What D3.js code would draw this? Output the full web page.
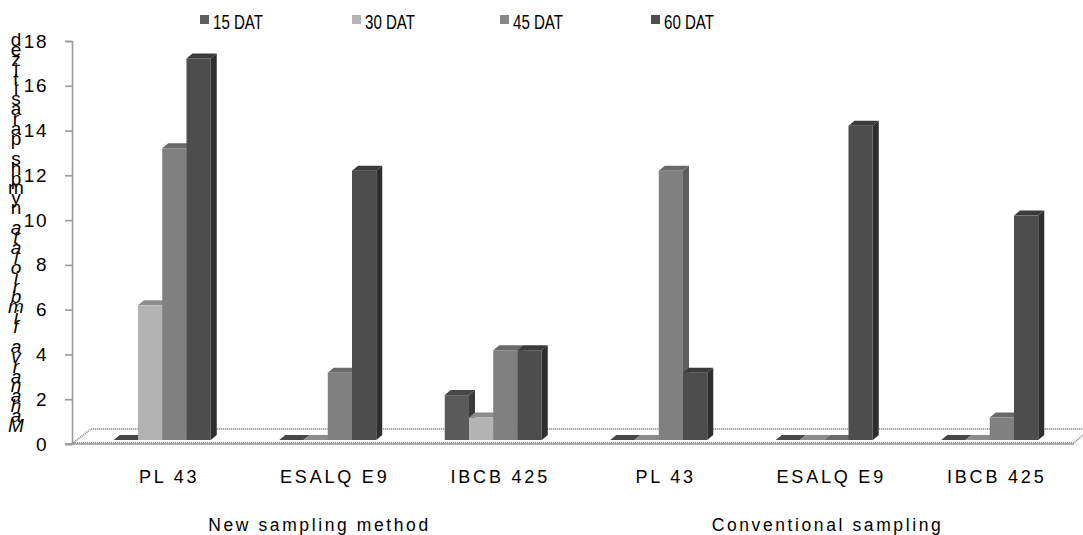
<!DOCTYPE html>
<html>
<head>
<meta charset="utf-8">
<script src="https://cdnjs.cloudflare.com/ajax/libs/d3/7.8.5/d3.min.js"></script>
<style>
  body { margin: 0; background: #fff; }
  svg text { font-family: "Liberation Sans", Arial, sans-serif; fill: #000; }
</style>
</head>
<body>
<script>
// values
var categories = ["PL 43", "ESALQ E9", "IBCB 425", "PL 43", "ESALQ E9", "IBCB 425"];
var groups = ["New sampling method", "Conventional sampling"];
var series = ["15 DAT", "30 DAT", "45 DAT", "60 DAT"];
var dat15 = [0, 0, 2, 0, 0, 0];
var dat30 = [6, 0, 1, 0, 0, 0];
var dat45 = [13, 3, 4, 12, 0, 1];
var dat60 = [17, 12, 4, 3, 14, 10];
var yTicks = [0, 2, 4, 6, 8, 10, 12, 14, 16, 18];
var yLabel = "Mahanarva fimbriolata nymphs parasitized";

var values = [dat15, dat30, dat45, dat60];
// front / top / side shades for each series
var shades = [
  ["#5a5a5a", "#474747", "#3a3a3a"],
  ["#b3b3b3", "#8c8c8c", "#949494"],
  ["#808080", "#6a6a6a", "#5e5e5e"],
  ["#4d4d4d", "#3b3b3b", "#2e2e2e"]
];
var legendColors = ["#5f5f5f", "#b4b4b4", "#878787", "#4d4d4d"];

var W = 1083, H = 535;
var svg = d3.select("body").append("svg")
    .attr("width", W)
    .attr("height", H);

// scales
var x = d3.scaleBand().domain(d3.range(categories.length)).range([85, 1078]);
var inner = d3.scaleBand().domain(series).range([-48.5, 48.5]);
var y = d3.scaleLinear().domain([0, 18]).range([444, 41]);
var yBar = y.copy().range([440, 36]);
var dx = 6, dy = 5;

// floor
var floorPts = [[73, 443], [1074, 443], [1090, 429], [91, 429]];
svg.append("polygon")
    .attr("points", floorPts.map(function(p) { return p.join(","); }).join(" "))
    .attr("fill", "#fff")
    .attr("stroke", "#909090")
    .attr("stroke-width", 2)
    .attr("stroke-dasharray", "1,1");

// y axis
var yAxisG = svg.append("g")
    .attr("transform", "translate(72,0)")
    .call(d3.axisLeft(y).tickValues(yTicks).tickSize(7).tickPadding(20));
yAxisG.select(".domain").attr("stroke", "#9a9a9a").attr("stroke-width", 1.6);
yAxisG.selectAll(".tick line").attr("stroke", "#9a9a9a").attr("stroke-width", 1.6);
yAxisG.selectAll(".tick text")
    .attr("font-size", 19)
    .attr("dx", 3)
    .style("letter-spacing", "1.5px")
    .attr("font-family", "Liberation Sans, Arial, sans-serif");

// x axis line
svg.append("line")
    .attr("x1", 65).attr("x2", 1074)
    .attr("y1", y(0)).attr("y2", y(0))
    .attr("stroke", "#9a9a9a")
    .attr("stroke-width", 1.6);

// bars
categories.forEach(function(c, i) {
  var cx = x(i) + x.bandwidth() / 2 - 5.5;
  series.forEach(function(s, k) {
    var v = values[k][i];
    var x0 = cx + inner(s), bw = inner.bandwidth();
    var yt = yBar(v), yb = yBar(0);
    var g = svg.append("g").attr("class", "bar");
    // side
    g.append("polygon")
        .attr("points", [[x0 + bw, yt], [x0 + bw + dx, yt - dy], [x0 + bw + dx, yb - dy], [x0 + bw, yb]].join(" "))
        .attr("fill", shades[k][2]);
    // top
    g.append("polygon")
        .attr("points", [[x0, yt], [x0 + dx, yt - dy], [x0 + bw + dx, yt - dy], [x0 + bw, yt]].join(" "))
        .attr("fill", shades[k][1]);
    // front
    if (v > 0) {
      g.append("rect")
          .attr("x", x0).attr("y", yt)
          .attr("width", bw).attr("height", yb - yt)
          .attr("fill", shades[k][0]);
    }
  });
});

// category labels
svg.selectAll(".cat")
    .data(categories)
    .enter().append("text")
    .attr("class", "cat")
    .attr("x", function(d, i) { return x(i) + x.bandwidth() / 2 + 1.5; })
    .attr("y", 483)
    .attr("text-anchor", "middle")
    .attr("font-size", 18)
    .style("letter-spacing", "2.8px")
    .text(function(d) { return d; });

// group labels
var groupX = [318, 826];
svg.selectAll(".grp")
    .data(groups)
    .enter().append("text")
    .attr("class", "grp")
    .attr("x", function(d, i) { return groupX[i] + 1.5; })
    .attr("y", 531)
    .attr("text-anchor", "middle")
    .attr("font-size", 17.5)
    .style("letter-spacing", "2.6px")
    .text(function(d) { return d; });

// legend
var legendX = [200, 352, 500, 651];
var legend = svg.selectAll(".legend")
    .data(series)
    .enter().append("g")
    .attr("class", "legend")
    .attr("transform", function(d, i) { return "translate(" + legendX[i] + ",0)"; });
legend.append("rect")
    .attr("x", 0).attr("y", 15)
    .attr("width", 9).attr("height", 9)
    .attr("fill", function(d, i) { return legendColors[i]; });
legend.append("text")
    .attr("x", 13)
    .attr("y", 29)
    .attr("font-size", 19.5)
    .attr("textLength", 50)
    .attr("lengthAdjust", "spacingAndGlyphs")
    .text(function(d) { return d; });

// y label, glyphs stacked bottom to top
var chars = yLabel.split("");
svg.selectAll(".ylab")
    .data(chars)
    .enter().append("text")
    .attr("class", "ylab")
    .attr("x", 16)
    .attr("y", function(d, i) { return 432 - i * 9.9; })
    .attr("text-anchor", "middle")
    .attr("font-size", 19)
    .style("font-style", function(d, i) { return i < 21 ? "italic" : "normal"; })
    .text(function(d) { return d; });
</script>
</body>
</html>
